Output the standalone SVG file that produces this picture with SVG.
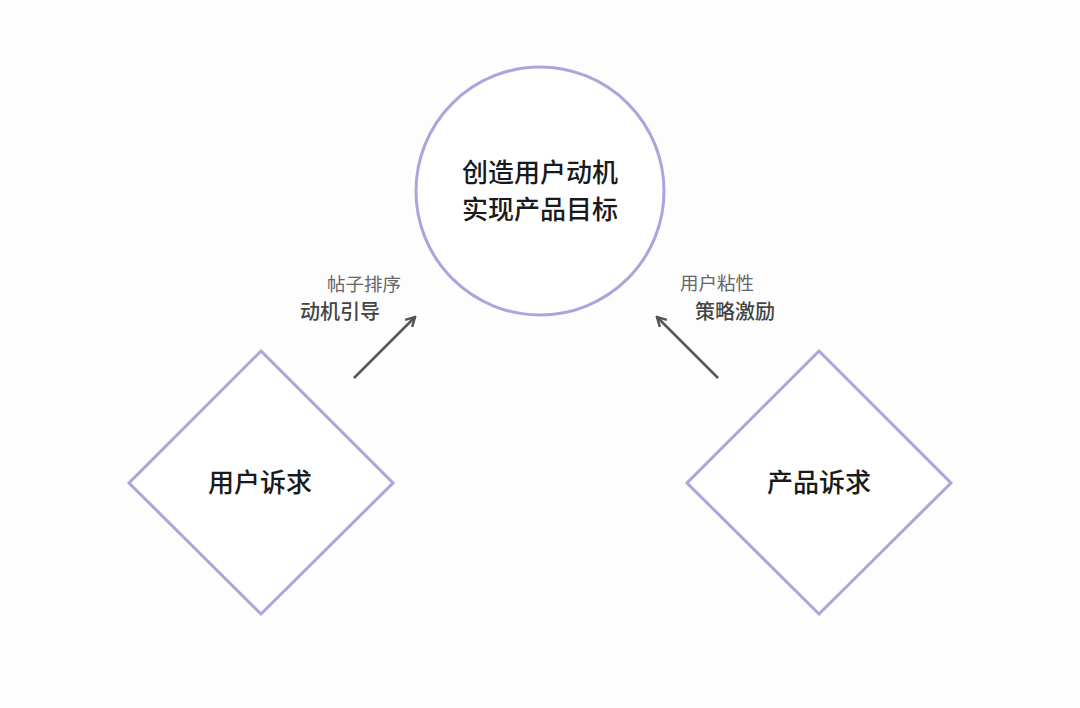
<svg xmlns="http://www.w3.org/2000/svg" width="1080" height="708" viewBox="0 0 1080 708">
<style>
.shape{fill:#fff;stroke:#aaa6dc;stroke-width:3}
.t{font-family:"Noto Sans CJK SC",sans-serif;font-weight:500;fill:#1a1a1a;text-anchor:middle;font-size:26px}
.s{font-family:"Noto Sans CJK SC",sans-serif;fill:#666;font-size:18.5px}
.b{font-family:"Noto Sans CJK SC",sans-serif;fill:#444;font-size:20px;font-weight:500}
.c{stroke:#555;stroke-width:2.5;fill:none}
</style>
<defs><marker id="a" markerWidth="12" markerHeight="12" refX="10" refY="6" orient="auto" markerUnits="userSpaceOnUse"><path d="M1,1 L10,6 L1,11" fill="none" stroke="#555" stroke-width="2.5"/></marker></defs>
<rect width="1080" height="708" fill="#fdfdfd"/>
<g id="goal"><circle class="shape" cx="540" cy="191" r="124"/><text class="t" x="540" y="182">创造用户动机</text><text class="t" x="540" y="219">实现产品目标</text></g>
<g id="user"><polygon class="shape" points="261,351 393,483 261,614 129,483"/><text class="t" x="260" y="492">用户诉求</text></g>
<g id="product"><polygon class="shape" points="819,351 951,483 819,614 687,483"/><text class="t" x="819" y="492">产品诉求</text></g>
<g id="connectors">
<line class="c" x1="354" y1="378" x2="415" y2="317" marker-end="url(#a)"/>
<line class="c" x1="718" y1="378" x2="657" y2="317" marker-end="url(#a)"/>
</g>
<text class="s" x="327" y="291">帖子排序</text>
<text class="b" x="300" y="319">动机引导</text>
<text class="s" x="680" y="290">用户粘性</text>
<text class="b" x="695" y="319">策略激励</text>
</svg>
